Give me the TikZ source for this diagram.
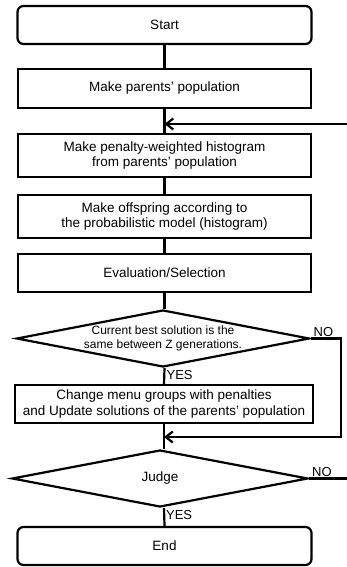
\documentclass[tikz,border=0pt]{standalone}
\usepackage{fontspec}
\setmainfont{Liberation Sans}
\usetikzlibrary{arrows.meta, positioning, shapes.geometric, calc}

\begin{document}
\begin{tikzpicture}[
    x=1pt, y=1pt,
    line width=2.2pt,
    every node/.style={font=\fontsize{13.5}{15.5}\selectfont},
    proc/.style={draw, rectangle, minimum width=293pt, minimum height=39pt,
                 align=center, inner sep=2pt, line width=2.2pt},
    term/.style={proc, rounded corners=6pt, minimum width=294pt, minimum height=38pt},
    test/.style={draw, diamond, aspect=5.1, inner sep=0pt, minimum width=293pt,
                 minimum height=57pt, align=center, line width=2.2pt},
    tag/.style={font=\fontsize{13}{15}\selectfont, inner sep=1pt},
    >={Straight Barb[length=7pt, width=11pt]}
  ]
  \useasboundingbox (0,0) rectangle (347,-567);

  \node[term] (start) at (164.5,-25) {Start};
  \node[proc] (pop)   at (164.5,-88.5) {Make parents' population};
  \node[proc, minimum height=43pt] (hist) at (164.5,-155.5)
    {Make penalty-weighted histogram\\from parents' population};
  \node[proc, minimum height=43pt] (offs) at (164.5,-216.5)
    {Make offspring according to\\the probabilistic model (histogram)};
  \node[proc, minimum height=38pt] (eval) at (164.5,-273) {Evaluation/Selection};
  \node[test, font=\fontsize{12}{14}\selectfont] (same) at (163,-338.5)
    {Current best solution is the\\same between Z generations.};
  \node[proc, minimum width=298pt, minimum height=38pt] (upd) at (164,-404)
    {Change menu groups with penalties\\and Update solutions of the parents' population};
  \node[test, minimum width=296pt] (judge) at (160,-478.5) {Judge};
  \node[term] (end) at (164.5,-546) {End};

  % main flow
  \draw (start) -- (pop);
  \draw (pop) -- (hist);
  \draw (hist) -- (offs);
  \draw (offs) -- (eval);
  \draw (eval.south) -- (eval.south |- same.north);
  \draw (eval.south |- same.south) -- (upd.north);
  \draw (upd.south) -- (upd.south |- judge.north);
  \draw (upd.south |- judge.south) -- (end.north);

  % loop back from Judge
  \coordinate (loopin) at (347,-124);
  \draw[->] (loopin) -- (pop.south |- loopin);

  % NO branch of the first test
  \coordinate (bend) at (341,-338.5);
  \coordinate (back) at (341,-437);
  \draw[->] (same.east) -- (bend) -- (back) -- (upd.south |- back);
  \node[tag, anchor=south west] at ([xshift=1pt]same.east) {NO};
  \node[tag, anchor=north west] at (eval.south |- same.south) {YES};

  % Judge
  \coordinate (out) at (347,-478.5);
  \draw (judge.east) -- (out);
  \node[tag, anchor=south west] at ([xshift=1pt]judge.east) {NO};
  \node[tag, anchor=north west] at (upd.south |- judge.south) {YES};
\end{tikzpicture}
\end{document}
